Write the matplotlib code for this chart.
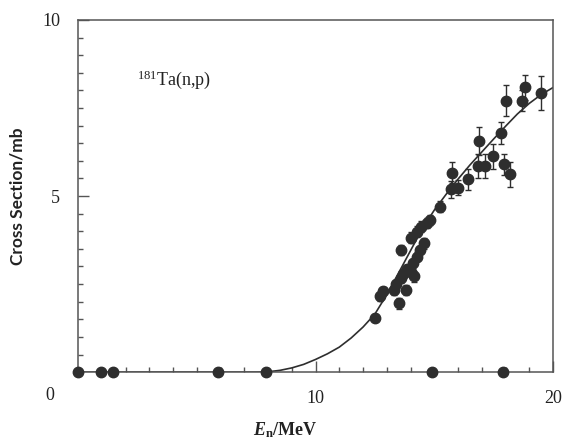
import matplotlib
matplotlib.use("Agg")
import matplotlib.pyplot as plt
from matplotlib.ticker import MultipleLocator

plt.rcParams['mathtext.fontset'] = 'custom'
plt.rcParams['mathtext.rm'] = 'Liberation Serif'
plt.rcParams['mathtext.it'] = 'Liberation Serif:italic:bold'
plt.rcParams['mathtext.bf'] = 'Liberation Serif:bold'

# measured points (En in MeV, cross section in mb, error)
en = [12.5, 12.7, 12.86, 13.3, 13.4, 13.5, 13.6, 13.6, 13.7, 13.8, 13.84, 14.0,
      14.0, 14.1, 14.15, 14.26, 14.26, 14.4, 14.45, 14.55, 14.68, 14.8, 15.24,
      15.7, 15.76, 16.0, 16.4, 16.86, 16.9, 17.15, 17.47, 17.8, 17.95, 18.0,
      18.18, 18.7, 18.8, 19.5]
sigma = [1.55, 2.15, 2.30, 2.33, 2.50, 1.95, 2.66, 3.47, 2.78, 2.33, 2.92, 3.82,
         2.85, 3.09, 2.72, 3.28, 3.99, 3.47, 4.13, 3.66, 4.24, 4.32, 4.70,
         5.19, 5.66, 5.24, 5.47, 5.85, 6.56, 5.85, 6.13, 6.79, 5.90, 7.71,
         5.62, 7.71, 8.09, 7.93]
err = [0.10, 0.12, 0.12, 0.15, 0.12, 0.15, 0.12, 0.15, 0.12, 0.15, 0.12, 0.15,
       0.12, 0.12, 0.15, 0.12, 0.15, 0.12, 0.15, 0.15, 0.15, 0.15, 0.15,
       0.25, 0.30, 0.22, 0.30, 0.35, 0.40, 0.35, 0.35, 0.30, 0.30, 0.45,
       0.35, 0.30, 0.35, 0.48]

# points sitting on zero
en_zero = [0, 0.95, 1.45, 5.9, 7.9, 14.9, 17.9]
sigma_zero = [0, 0, 0, 0, 0, 0, 0]

# fitted curve
curve_en = [0, 7.5, 8.0, 8.5, 9.0, 9.5, 10.0, 10.5, 11.0, 11.5, 12.0, 12.5, 13.0,
            13.5, 14.0, 14.5, 15.0, 15.5, 16.0, 16.5, 17.0, 17.5, 18.0, 18.5,
            19.0, 19.5, 20.0]
curve_sigma = [0, 0, 0.01, 0.05, 0.12, 0.22, 0.36, 0.52, 0.71, 0.97, 1.28, 1.65,
               2.2, 2.82, 3.45, 4.08, 4.6, 5.05, 5.48, 5.88, 6.25, 6.62, 6.98,
               7.33, 7.63, 7.88, 8.08]

ink = '#2e2e2e'
axcol = '#555555'

fig = plt.figure(figsize=(5.62, 4.43), dpi=100)
ax = fig.add_axes([0.139, 0.160, 0.845, 0.795])

ax.plot(curve_en, curve_sigma, color=ink, lw=1.2, zorder=2)
ax.errorbar(en, sigma, yerr=err, fmt='o', ms=7.5, color=ink, ecolor=ink,
            elinewidth=1, capsize=2.5, capthick=1, zorder=3)
ax.plot(en_zero, sigma_zero, 'o', ms=7.5, color=ink, clip_on=False, zorder=3)

ax.set_xlim(0, 20)
ax.set_ylim(0, 10)
ax.xaxis.set_major_locator(MultipleLocator(10))
ax.xaxis.set_minor_locator(MultipleLocator(1))
ax.yaxis.set_major_locator(MultipleLocator(5))
ax.yaxis.set_minor_locator(MultipleLocator(0.5))
ax.set_xticks([10, 20])
ax.set_xticklabels(['10', '20'])
ax.set_yticks([5, 10])
ax.set_yticklabels(['5', '10'])
ax.tick_params(which='both', direction='in', colors=axcol, labelcolor='#222222',
               labelsize=13, width=1)
ax.tick_params(which='major', length=8, pad=13)
ax.tick_params(which='minor', length=3.5)
for lab in ax.get_xticklabels() + ax.get_yticklabels():
    lab.set_family('Liberation Serif')
for sp in ax.spines.values():
    sp.set_color(axcol)
    sp.set_linewidth(1.1)

ax.text(-1.2, -0.65, '0', fontsize=13, family='Liberation Serif', color='#222222',
        ha='center', va='center')
ax.text(2.5, 8.3, r'$^{181}$Ta(n,p)', fontsize=13, family='Liberation Serif',
        color='#222222', va='center')

ax.set_ylabel('Cross Section/mb', fontsize=12.5, family='Lato', fontweight='bold',
              color='#222222')
ax.yaxis.label.set_va('center')
ax.yaxis.set_label_coords(-0.128, 0.5)
ax.set_xlabel(r'$\mathit{E}_\mathbf{n}\mathbf{/MeV}$', fontsize=13,
              color='#222222')
ax.xaxis.set_label_coords(0.436, -0.165)
ax.xaxis.label.set_va('center')

fig.savefig('out.png', dpi=100)
